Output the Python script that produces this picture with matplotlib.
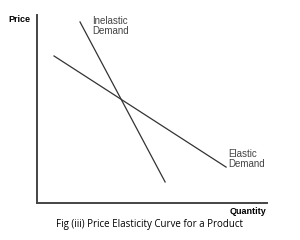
import matplotlib
matplotlib.use("Agg")
import matplotlib.pyplot as plt

# demand curves, endpoints (arbitrary units 0-10)
inelastic_q = [1.87, 5.57]
inelastic_p = [9.63, 1.12]
elastic_q = [0.74, 8.22]
elastic_p = [7.82, 1.91]

plt.rcParams['font.family'] = ['Liberation Sans', 'DejaVu Sans']

fig = plt.figure(figsize=(3.0, 2.4), dpi=100)
ax = fig.add_axes([37 / 300, 37 / 240, 230 / 300, 188 / 240])

ax.plot(inelastic_q, inelastic_p, color='#333333', lw=0.9)
ax.plot(elastic_q, elastic_p, color='#333333', lw=0.9)

ax.set_xlim(0, 10)
ax.set_ylim(0, 10)
for s in ['top', 'right']:
    ax.spines[s].set_visible(False)
for s in ['left', 'bottom']:
    ax.spines[s].set_color('#444444')
    ax.spines[s].set_linewidth(1.4)
ax.set_xticks([])
ax.set_yticks([])

ax.text(2.4, 9.95, 'Inelastic\nDemand', fontsize=7, color='#444444',
        va='top', ha='left', linespacing=0.95)
ax.text(8.3, 2.85, 'Elastic\nDemand', fontsize=7, color='#444444',
        va='top', ha='left', linespacing=0.95)

fig.text(8 / 300, 1 - 19 / 240, 'Price', fontsize=6.5, fontweight='bold',
         va='center', ha='left')
fig.text(266 / 300, 1 - 211 / 240, 'Quantity', fontsize=6.5, fontweight='bold',
         va='center', ha='right')
fig.text(150 / 300, 1 - 225 / 240, 'Fig (iii) Price Elasticity Curve for a Product',
         fontsize=7, family=['Open Sans', 'DejaVu Sans'], va='center', ha='center')

fig.savefig('out.png', dpi=100)
